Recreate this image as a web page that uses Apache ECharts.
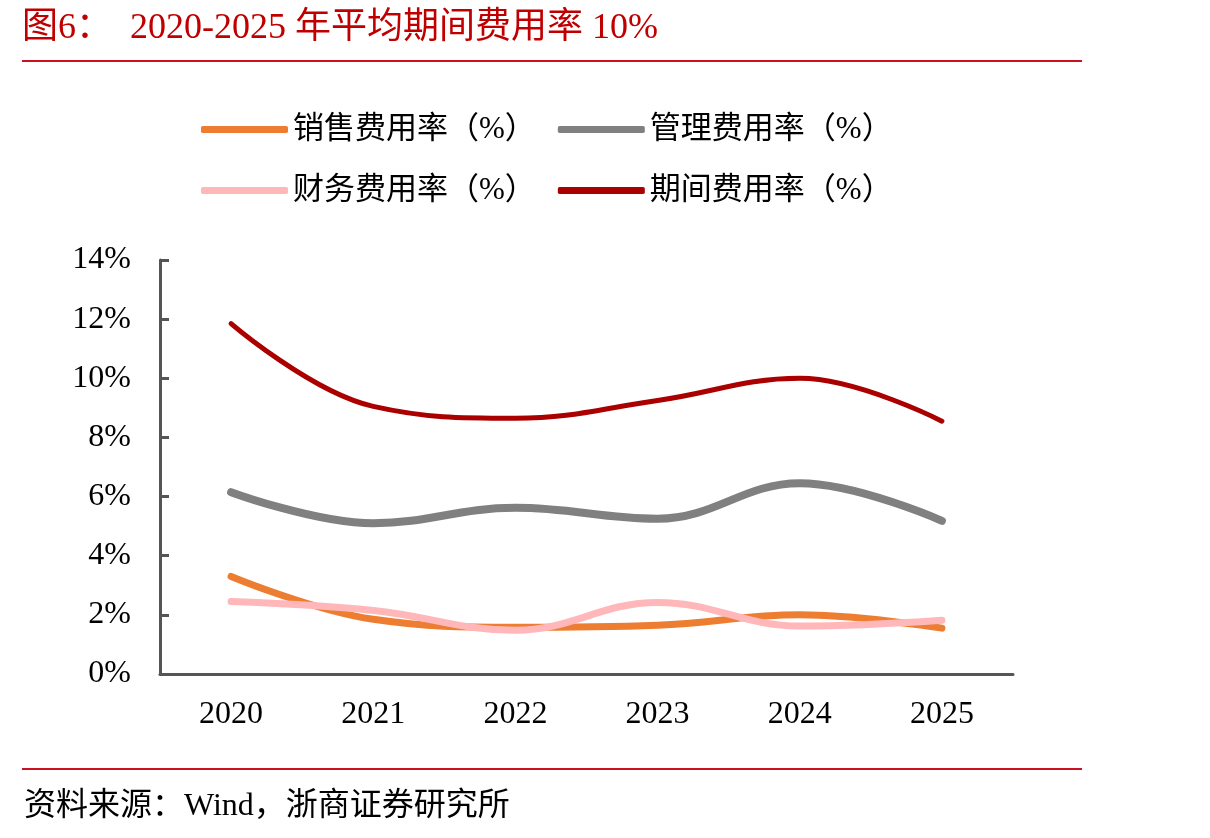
<!DOCTYPE html>
<html>
<head>
<meta charset="utf-8">
<script src="https://cdn.jsdelivr.net/npm/echarts@6/dist/echarts.min.js"></script>
<style>
  html, body { margin: 0; padding: 0; background: #fff; }
  #chart { width: 1210px; height: 838px; }
</style>
</head>
<body>
<div id="chart"></div>
<script>
// data (%)
const years = ['2020', '2021', '2022', '2023', '2024', '2025'];
const salesRate = [3.3, 1.85, 1.58, 1.65, 2.0, 1.55];
const adminRate = [6.15, 5.1, 5.62, 5.25, 6.45, 5.18];
const financeRate = [2.45, 2.15, 1.48, 2.42, 1.62, 1.82];
const periodRate = [11.85, 9.05, 8.65, 9.25, 10.0, 8.55];
const seriesNames = ['销售费用率（%）', '管理费用率（%）', '财务费用率（%）', '期间费用率（%）'];

const serif = '"Liberation Serif", "Noto Sans CJK SC", serif';
const chart = echarts.init(document.getElementById('chart'));

const legendBase = {
  left: 196,
  icon: 'roundRect',
  itemWidth: 87,
  itemHeight: 7,
  itemGap: 22,
  textStyle: { fontFamily: serif, fontSize: 31, color: '#000' }
};

chart.setOption({
  animation: false,
  textStyle: { fontFamily: serif },
  graphic: [
    {
      type: 'text', left: 22, top: 11,
      style: { text: '图6：  2020-2025 年平均期间费用率 10%', fill: '#C00000', font: '36px ' + serif }
    },
    {
      type: 'rect', shape: { x: 22, y: 60, width: 1060, height: 2 },
      style: { fill: '#CC1122' }
    },
    {
      type: 'rect', shape: { x: 22, y: 768, width: 1060, height: 2 },
      style: { fill: '#CC1122' }
    },
    {
      type: 'text', left: 24, top: 791,
      style: { text: '资料来源：Wind，浙商证券研究所', fill: '#000', font: '32px ' + serif }
    }
  ],
  legend: [
    Object.assign({ data: [seriesNames[0], seriesNames[1]], top: 109 }, legendBase),
    Object.assign({ data: [seriesNames[2], seriesNames[3]], top: 170 }, legendBase)
  ],
  grid: { left: 160, right: 197, top: 260, bottom: 164 },
  xAxis: {
    type: 'category',
    data: years,
    boundaryGap: true,
    axisLine: { lineStyle: { color: '#555', width: 3 } },
    axisTick: { inside: true, length: 9, lineStyle: { color: '#555', width: 3 } },
    axisLabel: { color: '#000', fontSize: 32, fontFamily: serif, margin: 25 }
  },
  yAxis: {
    type: 'value',
    min: 0, max: 14, interval: 2,
    axisLine: { show: true, lineStyle: { color: '#555', width: 3 } },
    axisTick: { show: true, inside: true, length: 9, lineStyle: { color: '#555', width: 3 } },
    splitLine: { show: false },
    axisLabel: { color: '#000', fontSize: 32, fontFamily: serif, margin: 29, formatter: '{value}%' }
  },
  series: [
    {
      name: seriesNames[0], type: 'line', data: salesRate, smooth: 0.4,
      showSymbol: false, color: '#ED7D31',
      lineStyle: { width: 7, cap: 'round' }
    },
    {
      name: seriesNames[1], type: 'line', data: adminRate, smooth: 0.4,
      showSymbol: false, color: '#808080',
      lineStyle: { width: 8, cap: 'round' }
    },
    {
      name: seriesNames[2], type: 'line', data: financeRate, smooth: 0.4,
      showSymbol: false, color: '#FFB7B9',
      lineStyle: { width: 7, cap: 'round' }
    },
    {
      name: seriesNames[3], type: 'line', data: periodRate, smooth: 0.4,
      showSymbol: false, color: '#AA0000',
      lineStyle: { width: 5, cap: 'round' }
    }
  ]
});
</script>
</body>
</html>
